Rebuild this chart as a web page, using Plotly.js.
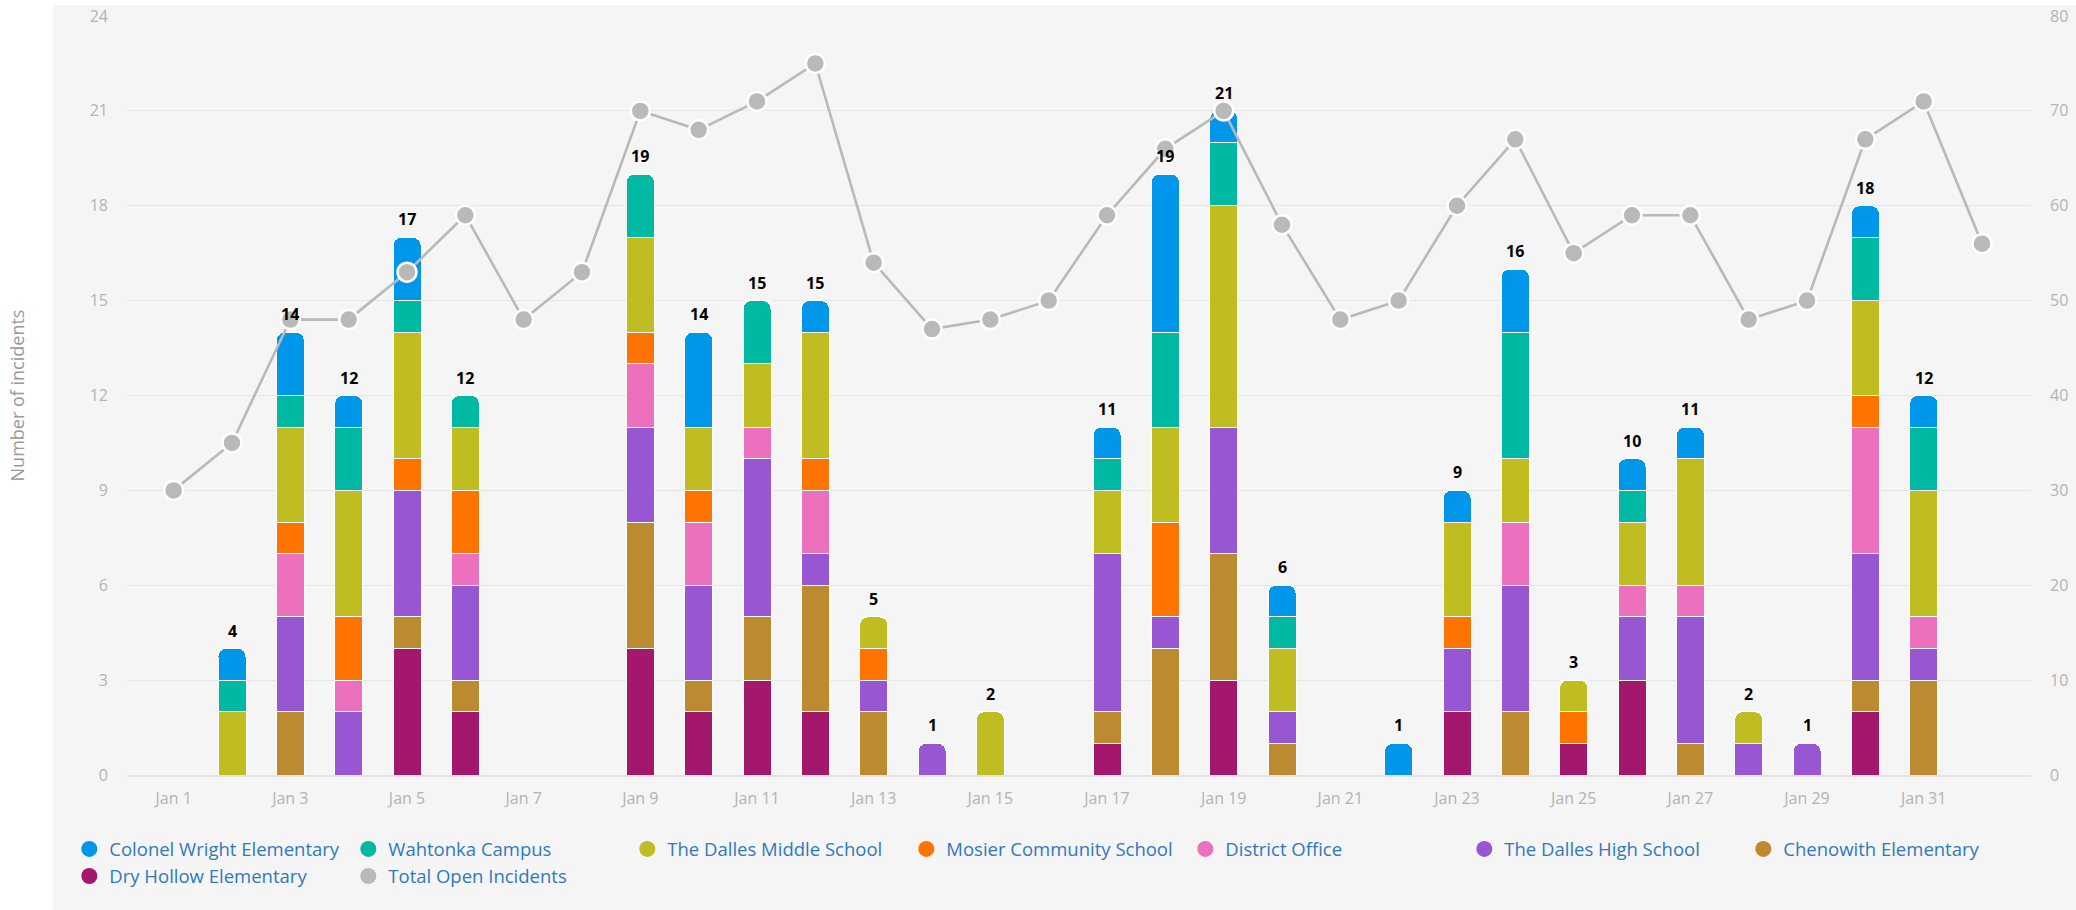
<!DOCTYPE html>
<html>
<head>
<meta charset="utf-8">
<script src="https://cdn.plot.ly/plotly-3.0.1.min.js"></script>
<style>
  html, body { margin: 0; padding: 0; background: #ffffff; }
  #chart { width: 2076px; height: 910px; }
</style>
</head>
<body>
<div id="chart"></div>
<script>
// ---- data ----
const dates = [
  '2024-01-01','2024-01-02','2024-01-03','2024-01-04','2024-01-05','2024-01-06','2024-01-07','2024-01-08',
  '2024-01-09','2024-01-10','2024-01-11','2024-01-12','2024-01-13','2024-01-14','2024-01-15','2024-01-16',
  '2024-01-17','2024-01-18','2024-01-19','2024-01-20','2024-01-21','2024-01-22','2024-01-23','2024-01-24',
  '2024-01-25','2024-01-26','2024-01-27','2024-01-28','2024-01-29','2024-01-30','2024-01-31','2024-02-01'
];
const tickDates = ['2024-01-01','2024-01-03','2024-01-05','2024-01-07','2024-01-09','2024-01-11','2024-01-13','2024-01-15',
  '2024-01-17','2024-01-19','2024-01-21','2024-01-23','2024-01-25','2024-01-27','2024-01-29','2024-01-31'];
const tickLabels = ['Jan 1','Jan 3','Jan 5','Jan 7','Jan 9','Jan 11','Jan 13','Jan 15',
  'Jan 17','Jan 19','Jan 21','Jan 23','Jan 25','Jan 27','Jan 29','Jan 31'];

// stacked from bottom to top
const dryHollow      = [0,0,0,0,4,2,0,0,4,2,3,2,0,0,0,0,1,0,3,0,0,0,2,0,1,3,0,0,0,2,0,0];
const chenowith      = [0,0,2,0,1,1,0,0,4,1,2,4,2,0,0,0,1,4,4,1,0,0,0,2,0,0,1,0,0,1,3,0];
const dallesHigh     = [0,0,3,2,4,3,0,0,3,3,5,1,1,1,0,0,5,1,4,1,0,0,2,4,0,2,4,1,1,4,1,0];
const districtOffice = [0,0,2,1,0,1,0,0,2,2,1,2,0,0,0,0,0,0,0,0,0,0,0,2,0,1,1,0,0,4,1,0];
const mosier         = [0,0,1,2,1,2,0,0,1,1,0,1,1,0,0,0,0,3,0,0,0,0,1,0,1,0,0,0,0,1,0,0];
const dallesMiddle   = [0,2,3,4,4,2,0,0,3,2,2,4,1,0,2,0,2,3,7,2,0,0,3,2,1,2,4,1,0,3,4,0];
const wahtonka       = [0,1,1,2,1,1,0,0,2,0,2,0,0,0,0,0,1,3,2,1,0,0,0,4,0,1,0,0,0,2,2,0];
const colonelWright  = [0,1,2,1,2,0,0,0,0,3,0,1,0,0,0,0,1,5,1,1,0,1,1,2,0,1,1,0,0,1,1,0];
const totalOpen      = [30,35,48,48,53,59,48,53,70,68,71,75,54,47,48,50,59,66,70,58,48,50,60,67,55,59,59,48,50,67,71,56];

const seriesNames = ['Dry Hollow Elementary','Chenowith Elementary','The Dalles High School','District Office',
  'Mosier Community School','The Dalles Middle School','Wahtonka Campus','Colonel Wright Elementary'];
const seriesValues = [dryHollow, chenowith, dallesHigh, districtOffice, mosier, dallesMiddle, wahtonka, colonelWright];
const seriesColors = ['#a3186d','#bc8a31','#9956d3','#ed70bf','#ff7300','#bfbd22','#00b9a2','#0096e9'];
const totalName = 'Total Open Incidents';
const legendOrder = ['Colonel Wright Elementary','Wahtonka Campus','The Dalles Middle School','Mosier Community School',
  'District Office','The Dalles High School','Chenowith Elementary','Dry Hollow Elementary'];

// ---- traces ----
const DAY = 86400000;
const traces = [];
seriesNames.forEach((name, k) => {
  traces.push({
    type: 'bar', name: name, x: dates, y: seriesValues[k],
    width: 0.48 * DAY,
    marker: { color: seriesColors[k], line: { color: '#ffffff', width: 1 } },
    showlegend: false, hoverinfo: 'x+y+name'
  });
});
traces.push({
  type: 'scatter', mode: 'lines+markers', name: totalName, x: dates, y: totalOpen, yaxis: 'y2',
  line: { color: '#b9b9b9', width: 2.6 },
  marker: { color: '#b9b9b9', size: 19, line: { color: '#ffffff', width: 2.5 } },
  showlegend: false
});
// legend entries (circle symbols)
legendOrder.forEach(name => {
  const k = seriesNames.indexOf(name);
  traces.push({
    type: 'scatter', mode: 'markers', name: name, x: [null], y: [null],
    marker: { color: seriesColors[k], size: 16, symbol: 'circle' }, hoverinfo: 'skip'
  });
});
traces.push({
  type: 'scatter', mode: 'markers', name: totalName, x: [null], y: [null],
  marker: { color: '#b9b9b9', size: 16, symbol: 'circle' }, hoverinfo: 'skip'
});

// totals labels
const totals = dates.map((d, i) => seriesValues.reduce((s, arr) => s + arr[i], 0));
const annotations = [];
totals.forEach((t, i) => {
  if (t > 0) {
    annotations.push({
      x: dates[i], y: t, xref: 'x', yref: 'y', text: '<b>' + t + '</b>', showarrow: false,
      yanchor: 'bottom', yshift: 5, font: { family: 'Open Sans', size: 16, color: '#000000' }
    });
  }
});
annotations.push({
  xref: 'paper', yref: 'paper', x: -0.0578, y: 0.5, text: 'Number of incidents', showarrow: false,
  textangle: -90, xanchor: 'center', yanchor: 'middle',
  font: { family: 'Open Sans', size: 18, color: '#999999' }
});

const layout = {
  width: 2076, height: 910,
  margin: { l: 127, r: 45, t: 16, b: 135 },
  paper_bgcolor: '#ffffff', plot_bgcolor: 'rgba(0,0,0,0)',
  font: { family: 'Open Sans', size: 16, color: '#b3b3b3' },
  barmode: 'stack', barcornerradius: 8,
  xaxis: {
    type: 'date',
    range: [new Date(Date.parse('2024-01-01T00:00:00Z') - 0.8 * DAY).toISOString(),
            new Date(Date.parse('2024-02-01T00:00:00Z') + 0.84 * DAY).toISOString()],
    tickmode: 'array', tickvals: tickDates, ticktext: tickLabels,
    showgrid: false, zeroline: false, showline: true, linecolor: '#e3e3e3', linewidth: 1.5,
    ticks: '', ticklabelstandoff: 8,
    tickfont: { family: 'Open Sans', size: 16, color: '#b3b3b3' }
  },
  yaxis: {
    range: [0, 24], dtick: 3, tick0: 0, showgrid: true, gridcolor: '#e6e6e6', gridwidth: 1,
    zeroline: false, ticks: '', ticklabelstandoff: 18,
    tickfont: { family: 'Open Sans', size: 16, color: '#b3b3b3' }
  },
  yaxis2: {
    overlaying: 'y', side: 'right', range: [0, 80], dtick: 10, tick0: 0,
    showgrid: false, zeroline: false, ticks: '', ticklabelstandoff: 18,
    tickfont: { family: 'Open Sans', size: 16, color: '#b3b3b3' }
  },
  legend: {
    orientation: 'h', traceorder: 'normal', x: -0.0303, xanchor: 'left', y: -0.073, yanchor: 'top',
    entrywidth: 234, entrywidthmode: 'pixels', bgcolor: 'rgba(0,0,0,0)', borderwidth: 0,
    font: { family: 'Open Sans', size: 18.5, color: '#2f79be' }, itemclick: false, itemdoubleclick: false
  },
  shapes: [{
    type: 'rect', xref: 'paper', yref: 'paper', layer: 'below',
    x0: (53 - 127) / 1904, x1: (2076 - 127) / 1904, y0: (775 - 910) / 759, y1: (775 - 5) / 759,
    fillcolor: '#f5f5f5', line: { width: 0 }
  }],
  annotations: annotations,
  showlegend: true,
  hovermode: 'closest'
};

Plotly.newPlot('chart', traces, layout, { displayModeBar: false, responsive: false });
</script>
</body>
</html>
